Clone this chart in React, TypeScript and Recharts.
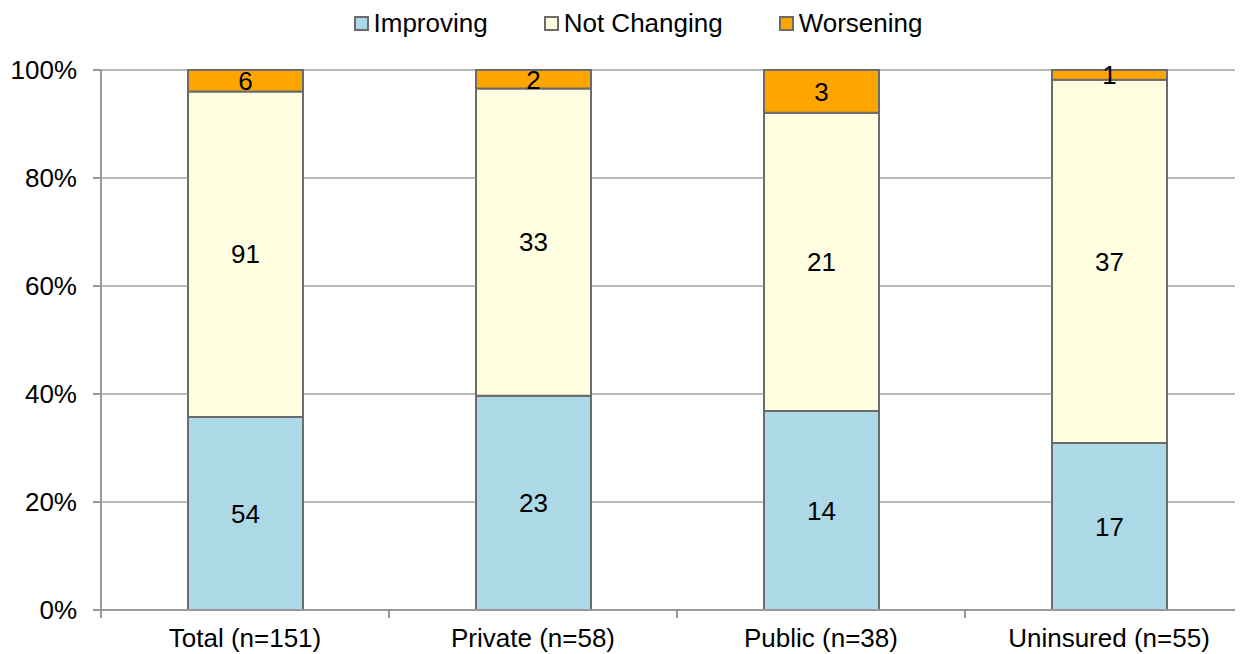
import React from "react"
import { BarChart, Bar, XAxis, YAxis, CartesianGrid, LabelList } from "recharts"

const categories = ["Total (n=151)", "Private (n=58)", "Public (n=38)", "Uninsured (n=55)"]
const improving = [54, 23, 14, 17]
const notChanging = [91, 33, 21, 37]
const worsening = [6, 2, 3, 1]
const yTicks = [0, 0.2, 0.4, 0.6, 0.8, 1]

const series = [
  { key: "improving", name: "Improving", color: "#ADD8E6" },
  { key: "notChanging", name: "Not Changing", color: "#FFFDE0" },
  { key: "worsening", name: "Worsening", color: "#FFA500" },
]

const data = categories.map((name, i) => ({
  name,
  improving: improving[i],
  notChanging: notChanging[i],
  worsening: worsening[i],
}))

const FONT = "'Liberation Sans', Arial, sans-serif"
const FS = 26
const W = 1260
const H = 646
const M = { top: 62, right: 15, left: 0, bottom: 14 }
const Y_W = 93
const STEP = (W - M.left - M.right - Y_W) / categories.length

const XTick = (props: any) => {
  const { x, y, payload } = props
  return (
    <g>
      <line x1={x - STEP / 2} y1={y - 8} x2={x - STEP / 2} y2={y} stroke="#999" strokeWidth={2} />
      <text x={x} y={y + 29} textAnchor="middle" fontSize={FS} fill="#000" fontFamily={FONT}>
        {payload.value}
      </text>
    </g>
  )
}

const LegendBox = () => (
  <div
    style={{
      position: "absolute",
      top: 0,
      left: 0,
      width: W,
      display: "flex",
      justifyContent: "center",
      gap: 56,
      fontFamily: FONT,
      fontSize: FS,
      lineHeight: "30px",
      color: "#000",
    }}
  >
    {series.map(s => (
      <div key={s.key} style={{ display: "flex", alignItems: "center" }}>
        <span style={{ width: 11, height: 11, background: s.color, border: "2px solid #6b6b6b", marginRight: 5, display: "inline-block" }} />
        <span>{s.name}</span>
      </div>
    ))}
  </div>
)

export default function App() {
  return (
    <div style={{ position: "relative", width: W, height: H }}>
      <BarChart width={W} height={H} data={data} margin={M} stackOffset="expand" barSize={115}>
        <CartesianGrid vertical={false} stroke="#a0a0a0" strokeWidth={1.5} />
        <XAxis
          dataKey="name"
          axisLine={{ stroke: "#999", strokeWidth: 2 }}
          tickLine={false}
          tick={<XTick />}
          height={30}
          interval={0}
        />
        <YAxis
          width={Y_W}
          ticks={yTicks}
          domain={[0, 1]}
          tickFormatter={(v: number) => `${Math.round(v * 100)}%`}
          axisLine={{ stroke: "#999", strokeWidth: 2 }}
          tickLine={{ stroke: "#999", strokeWidth: 2 }}
          tickSize={8}
          tickMargin={16}
          tick={{ fontSize: FS, fill: "#000", fontFamily: FONT }}
        />
        {series.map(s => (
          <Bar
            key={s.key}
            dataKey={s.key}
            name={s.name}
            stackId="a"
            fill={s.color}
            stroke="#6b6b6b"
            strokeWidth={2}
            isAnimationActive={false}
          >
            <LabelList dataKey={s.key} position="center" fontSize={FS} fill="#000" fontFamily={FONT} />
          </Bar>
        ))}
      </BarChart>
      <LegendBox />
    </div>
  )
}
